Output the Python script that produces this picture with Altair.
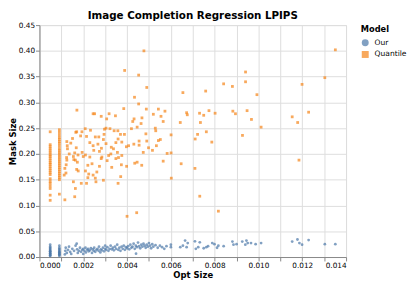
import altair as alt
import pandas as pd

# Quantile model points (Opt Size, Mask Size)
quantile_x = [
    0.00477, 0.01351, 0.00389, 0.00453, 0.00941, 0.0049, 0.01303, 0.01199, 0.00841, 0.00881,
    0.00941, 0.00655, 0.00759, 0.00993, 0.00434, 0.00453, 0.00385, 0.00488, 0.00543, 0.00171,
    0.00245, 0.00252, 0.00318, 0.00282, 0.00347, 0.00307, 0.0052, 0.00573, 0.00555, 0.00432,
    0.00468, 0.00565, 0.00426, 0.00643, 0.00672, 0.00675, 0.00731, 0.00774, 0.0075, 0.00802,
    0.00883, 0.00895, 0.00948, 0.00735, 0.00968, 0.01012, 0.01154, 0.01179, 0.01229, 0.00927,
    0.00722, 0.00711, 0.00762, 0.00787, 0.00601, 0.0071, 0.00647, 0.00565, 0.00601, 0.00583,
    0.00602, 0.01185, 0.00732, 0.00817, 0.004, 0.00444, 0.00359, 0.00371, 0.00398, 0.00374,
    0.00435, 0.00446, 0.00467, 0.00474, 0.00498, 0.00516, 0.00534, 0.00543, 0.00552, 0.00486,
    0.0049, 0.00455, 0.00455, 0.00431, 0.00407, 0.00397, 0.0042, 0.00446, 0.00464, 0.00529,
    0.00531, 0.00388, 0.00358, 0.00341, 0.0037, 0.00359, 0.00376, 0.00349, 0.00328, 0.00356,
    0.00376, 0.00361, 0.00349, 0.00316, 0.00309, 0.00297, 0.00304, 0.00322, 0.00295, 0.00292,
    0.00304, 0.00283, 0.00274, 0.00271, 0.00255, 0.00267, 0.00245, 0.0023, 0.00215, 0.00233,
    0.00209, 0.00194, 0.00166, 0.0017, 0.00151, 0.00143, 0.00125, 0.00127, 0.00128, 0.00136,
    0.00124, 0.00125, 0.00122, 0.00116, 0.00121, 0.00113, 0.00155, 0.00157, 0.00164, 0.00176,
    0.00168, 0.00161, 0.00155, 0.00164, 0.00161, 0.0017, 0.00177, 0.00191, 0.00215, 0.00221,
    0.00225, 0.0021, 0.002, 0.00195, 0.0021, 0.0023, 0.00221, 0.0024, 0.00245, 0.00255,
    0.00258, 0.00262, 0.00274, 0.00282, 0.00248, 0.00292, 0.00173, 0.00188, 0.0033, 0.00285,
    0.00338, 0.00326, 0.00116,
    0.00049, 0.00049, 0.00049, 0.00049, 0.00049, 0.00049, 0.00049, 0.00049, 0.00049, 0.00049,
    0.00049, 0.00049, 0.00049, 0.00049, 0.00049, 0.00049, 0.00049, 0.00049, 0.00049, 0.00049,
    0.00049, 0.00049, 0.00049, 0.00049,
    0.00091, 0.00091, 0.00091, 0.00091, 0.00091, 0.00091, 0.00091, 0.00091, 0.00091, 0.00091,
    0.00091, 0.00091, 0.00091, 0.00091, 0.00091, 0.00091, 0.00091, 0.00091, 0.00091, 0.00091,
    0.00091, 0.00091, 0.00091, 0.00091, 0.00091,
]
quantile_y = [
    0.400, 0.402, 0.362, 0.353, 0.359, 0.329, 0.348, 0.335, 0.336, 0.331,
    0.340, 0.319, 0.322, 0.315, 0.310, 0.297, 0.288, 0.287, 0.287, 0.285,
    0.278, 0.278, 0.278, 0.273, 0.274, 0.268, 0.277, 0.283, 0.273, 0.268,
    0.270, 0.263, 0.263, 0.261, 0.280, 0.276, 0.279, 0.284, 0.275, 0.279,
    0.283, 0.278, 0.284, 0.261, 0.267, 0.252, 0.272, 0.261, 0.281, 0.236,
    0.238, 0.229, 0.243, 0.223, 0.237, 0.172, 0.181, 0.186, 0.202, 0.201,
    0.153, 0.188, 0.118, 0.089, 0.079, 0.086, 0.143, 0.156, 0.176, 0.179,
    0.182, 0.184, 0.178, 0.203, 0.212, 0.207, 0.216, 0.226, 0.228, 0.239,
    0.225, 0.225, 0.217, 0.219, 0.216, 0.214, 0.249, 0.252, 0.259, 0.250,
    0.245, 0.238, 0.245, 0.245, 0.238, 0.229, 0.223, 0.222, 0.213, 0.203,
    0.197, 0.193, 0.191, 0.197, 0.187, 0.248, 0.250, 0.249, 0.238, 0.228,
    0.220, 0.211, 0.205, 0.233, 0.233, 0.219, 0.216, 0.222, 0.234, 0.246,
    0.249, 0.243, 0.242, 0.243, 0.230, 0.221, 0.224, 0.216, 0.210, 0.200,
    0.193, 0.188, 0.179, 0.172, 0.163, 0.159, 0.195, 0.189, 0.188, 0.198,
    0.212, 0.202, 0.146, 0.133, 0.117, 0.170, 0.167, 0.143, 0.143, 0.154,
    0.161, 0.167, 0.195, 0.203, 0.198, 0.194, 0.178, 0.181, 0.159, 0.153,
    0.146, 0.165, 0.176, 0.191, 0.207, 0.149, 0.184, 0.235, 0.174, 0.194,
    0.210, 0.200, 0.111,
    0.243, 0.218, 0.214, 0.210, 0.206, 0.202, 0.198, 0.195, 0.191, 0.187,
    0.183, 0.180, 0.176, 0.172, 0.168, 0.164, 0.160, 0.152, 0.147, 0.143,
    0.138, 0.133, 0.120, 0.110,
    0.247, 0.242, 0.237, 0.232, 0.228, 0.224, 0.220, 0.215, 0.210, 0.206,
    0.202, 0.198, 0.194, 0.190, 0.186, 0.182, 0.178, 0.174, 0.170, 0.166,
    0.162, 0.158, 0.154, 0.150, 0.122,
]

# Our model points (Opt Size, Mask Size)
our_x = [
    0.00049, 0.00049, 0.00049, 0.00049, 0.00049, 0.00049, 0.00049, 0.00049, 0.00049, 0.00049,
    0.00049, 0.00049, 0.00049, 0.00049,
    0.00091, 0.00091, 0.00091, 0.00091, 0.00091, 0.00091, 0.00091, 0.00091, 0.00091, 0.00091,
    0.00091, 0.00091,
    0.00116, 0.00118, 0.0012, 0.00125, 0.0013, 0.00135, 0.0014, 0.00145, 0.0015, 0.00158,
    0.00165, 0.0017, 0.00172, 0.00175, 0.0018, 0.00185, 0.0019, 0.00195, 0.002, 0.002,
    0.00205, 0.0021, 0.00212, 0.00218, 0.00222, 0.00225, 0.0023, 0.00235, 0.0024, 0.00243,
    0.00248, 0.0025, 0.00255, 0.0026, 0.00265, 0.0027, 0.00272, 0.00278, 0.0028, 0.00285,
    0.0029, 0.00295, 0.003, 0.003,
    0.00305, 0.0031, 0.00315, 0.0032, 0.00325, 0.0033, 0.00335, 0.0034, 0.00345, 0.0035,
    0.00355, 0.0036, 0.00365, 0.0037, 0.00375, 0.0038, 0.00385, 0.0039, 0.00395, 0.004,
    0.00405, 0.0041, 0.00415, 0.0042, 0.00425, 0.0043, 0.00435, 0.0044, 0.00445, 0.0045,
    0.00455, 0.0046, 0.00465, 0.0047, 0.00475, 0.0048, 0.00485, 0.0049, 0.00495, 0.005,
    0.00441,
    0.00505, 0.0051, 0.00515, 0.0052, 0.0053, 0.0054, 0.0055, 0.0056, 0.0057, 0.0058,
    0.006, 0.006,
    0.00643, 0.00655, 0.00665, 0.00672, 0.00677, 0.0071, 0.00714, 0.00725, 0.00732, 0.0075,
    0.00762, 0.0077, 0.00789, 0.00799, 0.00811, 0.00817, 0.00841, 0.00881, 0.00886, 0.009,
    0.00926, 0.0094, 0.00945, 0.00951, 0.00966, 0.00987, 0.01012, 0.01154, 0.01178, 0.01187,
    0.01199, 0.01229, 0.01303, 0.01351,
]
our_y = [
    0.002, 0.004, 0.006, 0.008, 0.010, 0.012, 0.014, 0.016, 0.018, 0.020,
    0.024, 0.003, 0.007, 0.011,
    0.002, 0.004, 0.006, 0.008, 0.010, 0.012, 0.014, 0.016, 0.018, 0.022,
    0.005, 0.009,
    0.005, 0.012, 0.018, 0.008, 0.014, 0.020, 0.010, 0.006, 0.016, 0.012,
    0.022, 0.026, 0.015, 0.008, 0.012, 0.018, 0.010, 0.014, 0.016, 0.006,
    0.012, 0.018, 0.009, 0.014, 0.016, 0.011, 0.013, 0.017, 0.008, 0.015,
    0.012, 0.018, 0.010, 0.014, 0.016, 0.012, 0.020, 0.009, 0.015, 0.013,
    0.018, 0.011, 0.016, 0.022,
    0.014, 0.019, 0.012, 0.016, 0.022, 0.015, 0.018, 0.013, 0.020, 0.016,
    0.024, 0.014, 0.018, 0.012, 0.020, 0.016, 0.022, 0.014, 0.019, 0.017,
    0.021, 0.015, 0.024, 0.018, 0.020, 0.026, 0.016, 0.022, 0.019, 0.028,
    0.021, 0.017, 0.024, 0.020, 0.026, 0.022, 0.018, 0.024, 0.020, 0.027,
    0.0065,
    0.022, 0.017, 0.025, 0.020, 0.023, 0.018, 0.022, 0.019, 0.016, 0.021,
    0.024, 0.019,
    0.019, 0.022, 0.032, 0.019, 0.027, 0.0305, 0.016, 0.019, 0.0286, 0.017,
    0.019, 0.021, 0.027, 0.025, 0.018, 0.022, 0.021, 0.030, 0.024, 0.025,
    0.030, 0.024, 0.032, 0.027, 0.027, 0.025, 0.027, 0.030, 0.034, 0.027,
    0.024, 0.033, 0.025, 0.025,
]

models = ["Our", "Quantile"]
x_ticks = [0.000, 0.001, 0.002, 0.003, 0.004, 0.005, 0.006, 0.007,
           0.008, 0.009, 0.010, 0.011, 0.012, 0.013, 0.014]
y_ticks = [0.00, 0.05, 0.10, 0.15, 0.20, 0.25, 0.30, 0.35, 0.40, 0.45]

df = pd.concat([
    pd.DataFrame({"Opt Size": our_x, "Mask Size": our_y, "Model": "Our"}),
    pd.DataFrame({"Opt Size": quantile_x, "Mask Size": quantile_y, "Model": "Quantile"}),
])

chart = alt.Chart(df).mark_point(filled=True, size=8, opacity=0.7).encode(
    x=alt.X("Opt Size:Q", scale=alt.Scale(domain=[0, 0.014], nice=False),
            axis=alt.Axis(values=x_ticks, format=".3f")),
    y=alt.Y("Mask Size:Q", scale=alt.Scale(domain=[0, 0.45], nice=False),
            axis=alt.Axis(values=y_ticks, format=".2f")),
    color=alt.Color("Model:N", scale=alt.Scale(domain=models, range=["#4c78a8", "#f58518"])),
    shape=alt.Shape("Model:N", scale=alt.Scale(domain=models, range=["circle", "square"])),
).properties(
    width=312,
    height=236,
    padding=0,
    title=alt.TitleParams("Image Completion Regression LPIPS", fontSize=10.5, offset=0),
).configure(
    font="DejaVu Sans",
).configure_axis(
    labelFontSize=7.4,
    titleFontSize=8.6,
    tickSize=4,
    labelPadding=1,
    titlePadding=1,
).configure_legend(
    labelFontSize=7.7,
    titleFontSize=8.4,
    symbolSize=50,
    offset=15,
    rowPadding=3,
    labelOffset=5,
)

chart.save("out.html", embed_options={"renderer": "svg", "actions": False})
